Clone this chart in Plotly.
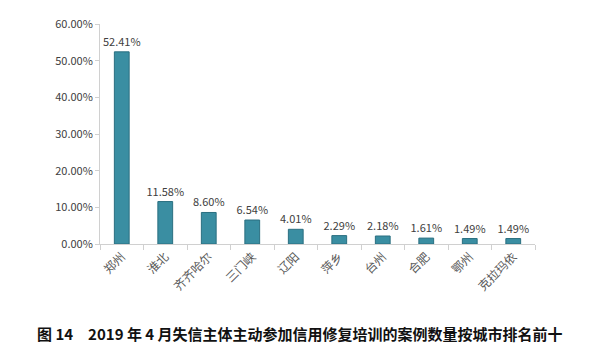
import plotly.graph_objects as go

cities = ["郑州", "淮北", "齐齐哈尔", "三门峡", "辽阳", "萍乡", "台州", "合肥", "鄂州", "克拉玛依"]
shares = [52.41, 11.58, 8.60, 6.54, 4.01, 2.29, 2.18, 1.61, 1.49, 1.49]
y_ticks = [0, 10, 20, 30, 40, 50, 60]
y_tick_labels = ["0.00%", "10.00%", "20.00%", "30.00%", "40.00%", "50.00%", "60.00%"]
caption = "图 14　2019 年 4 月失信主体主动参加信用修复培训的案例数量按城市排名前十"

fig = go.Figure()
fig.add_trace(go.Bar(
    x=cities, y=shares,
    marker=dict(color="#3a8ea2", line=dict(color="#2a6f80", width=1)),
    text=[f"{v:.2f}%" for v in shares],
    textposition="outside",
    constraintext="none",
    cliponaxis=False,
    textfont=dict(family="Noto Sans CJK SC", size=11, color="#404040"),
    width=0.34,
))
fig.update_layout(
    width=600, height=360,
    margin=dict(l=100, r=65, t=24, b=116),
    paper_bgcolor="white", plot_bgcolor="white",
    showlegend=False,
    font=dict(family="Noto Sans CJK SC", size=11, color="#404040"),
    annotations=[dict(
        text=caption, xref="paper", yref="paper", x=0.46, y=-0.405,
        xanchor="center", yanchor="middle", showarrow=False,
        font=dict(family="Noto Sans CJK SC", size=15, color="#111111", weight="bold"),
    )],
)
fig.update_yaxes(
    range=[0, 60], tickvals=y_ticks, ticktext=y_tick_labels,
    showgrid=False, zeroline=False,
    showline=True, linecolor="#d0d0d0", linewidth=1,
    ticks="outside", ticklen=4, tickcolor="#d0d0d0",
    tickfont=dict(size=11, color="#404040"),
)
fig.update_xaxes(
    showgrid=False, showline=True, linecolor="#d0d0d0", linewidth=1,
    ticks="outside", ticklen=5, tickcolor="#d0d0d0", tickson="boundaries",
    tickangle=-45, tickfont=dict(size=12, color="#595959"),
)
fig.write_html("out.html", post_script="document.body.style.margin='0';",
               config={"displayModeBar": False})
